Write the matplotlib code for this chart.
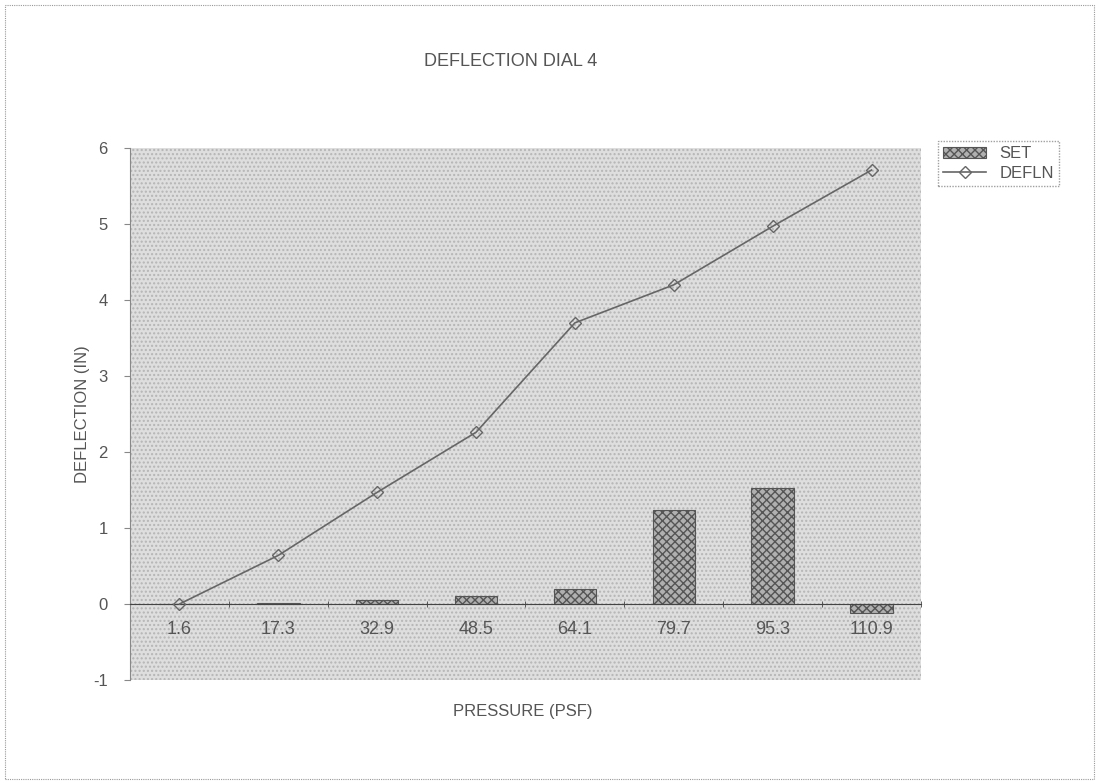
import numpy as np
import matplotlib.pyplot as plt
from matplotlib.patches import Rectangle

pressure = ['1.6', '17.3', '32.9', '48.5', '64.1', '79.7', '95.3', '110.9']
set_vals = [0.0, 0.01, 0.05, 0.10, 0.20, 1.24, 1.53, -0.12]
defln_vals = [0.0, 0.64, 1.47, 2.26, 3.70, 4.20, 4.97, 5.71]

plt.rcParams['font.family'] = 'Liberation Sans'
plt.rcParams['axes.unicode_minus'] = False
txt = '#555555'

fig = plt.figure(figsize=(10.99, 7.82), dpi=100)
fig.patch.set_facecolor('white')
fig.add_artist(Rectangle((0.005, 0.004), 0.99, 0.99, transform=fig.transFigure,
                         fill=False, edgecolor='#999999', lw=0.8, ls=(0, (1, 1))))

ax = fig.add_axes([0.1183, 0.1304, 0.7197, 0.6803])
ax.set_facecolor('#dedede')
x = np.arange(len(pressure))

# stippled plot area
ax.add_patch(Rectangle((-0.5, -1), 8, 7, facecolor='#dedede', edgecolor='#b5b5b5',
                       hatch='....', lw=0, zorder=0))

bars = ax.bar(x, set_vals, width=0.43, facecolor='#b0b0b0', edgecolor='#555555',
              hatch='xxxx', lw=0.8, label='SET', zorder=2)
line, = ax.plot(x, defln_vals, color='#666666', lw=1.2, marker='D', markersize=6,
                markerfacecolor='none', markeredgecolor='#666666', label='DEFLN', zorder=3)

ax.set_xlim(-0.5, 7.5)
ax.set_ylim(-1, 6)
ax.set_yticks(range(-1, 7))
ax.set_xticks(x)
ax.set_xticklabels(pressure)
ax.set_xticks(np.arange(-0.5, 8, 1), minor=True)

ax.spines['top'].set_visible(False)
ax.spines['right'].set_visible(False)
ax.spines['bottom'].set_position(('data', 0))
ax.spines['bottom'].set_color('#444444')
ax.spines['left'].set_color('#888888')
ax.spines['left'].set_linestyle((0, (1, 1)))
ax.tick_params(axis='x', which='major', length=0, pad=12, labelsize=13, labelcolor=txt)
ax.tick_params(axis='x', which='minor', length=4, direction='inout', color='#444444')
ax.tick_params(axis='y', length=4, labelsize=12, labelcolor=txt, color='#888888', pad=12)

fig.text(0.465, 0.921, 'DEFLECTION DIAL 4', fontsize=13, color=txt, ha='center', va='center')
ax.set_ylabel('DEFLECTION (IN)', fontsize=12, color=txt)
ax.yaxis.set_label_coords(-0.05, 0.5)
fig.text(0.476, 0.084, 'PRESSURE (PSF)', fontsize=12, color=txt, ha='center')

leg = fig.legend([bars, line], ['SET', 'DEFLN'], loc='upper left',
                 bbox_to_anchor=(0.846, 0.83), frameon=True,
                 fontsize=12, handlelength=2.6, borderpad=0.3, labelspacing=0.3,
                 fancybox=False)
leg.get_frame().set_edgecolor('#888888')
leg.get_frame().set_linestyle((0, (1, 1)))
for t in leg.get_texts():
    t.set_color(txt)

fig.savefig('out.png', dpi=100)
